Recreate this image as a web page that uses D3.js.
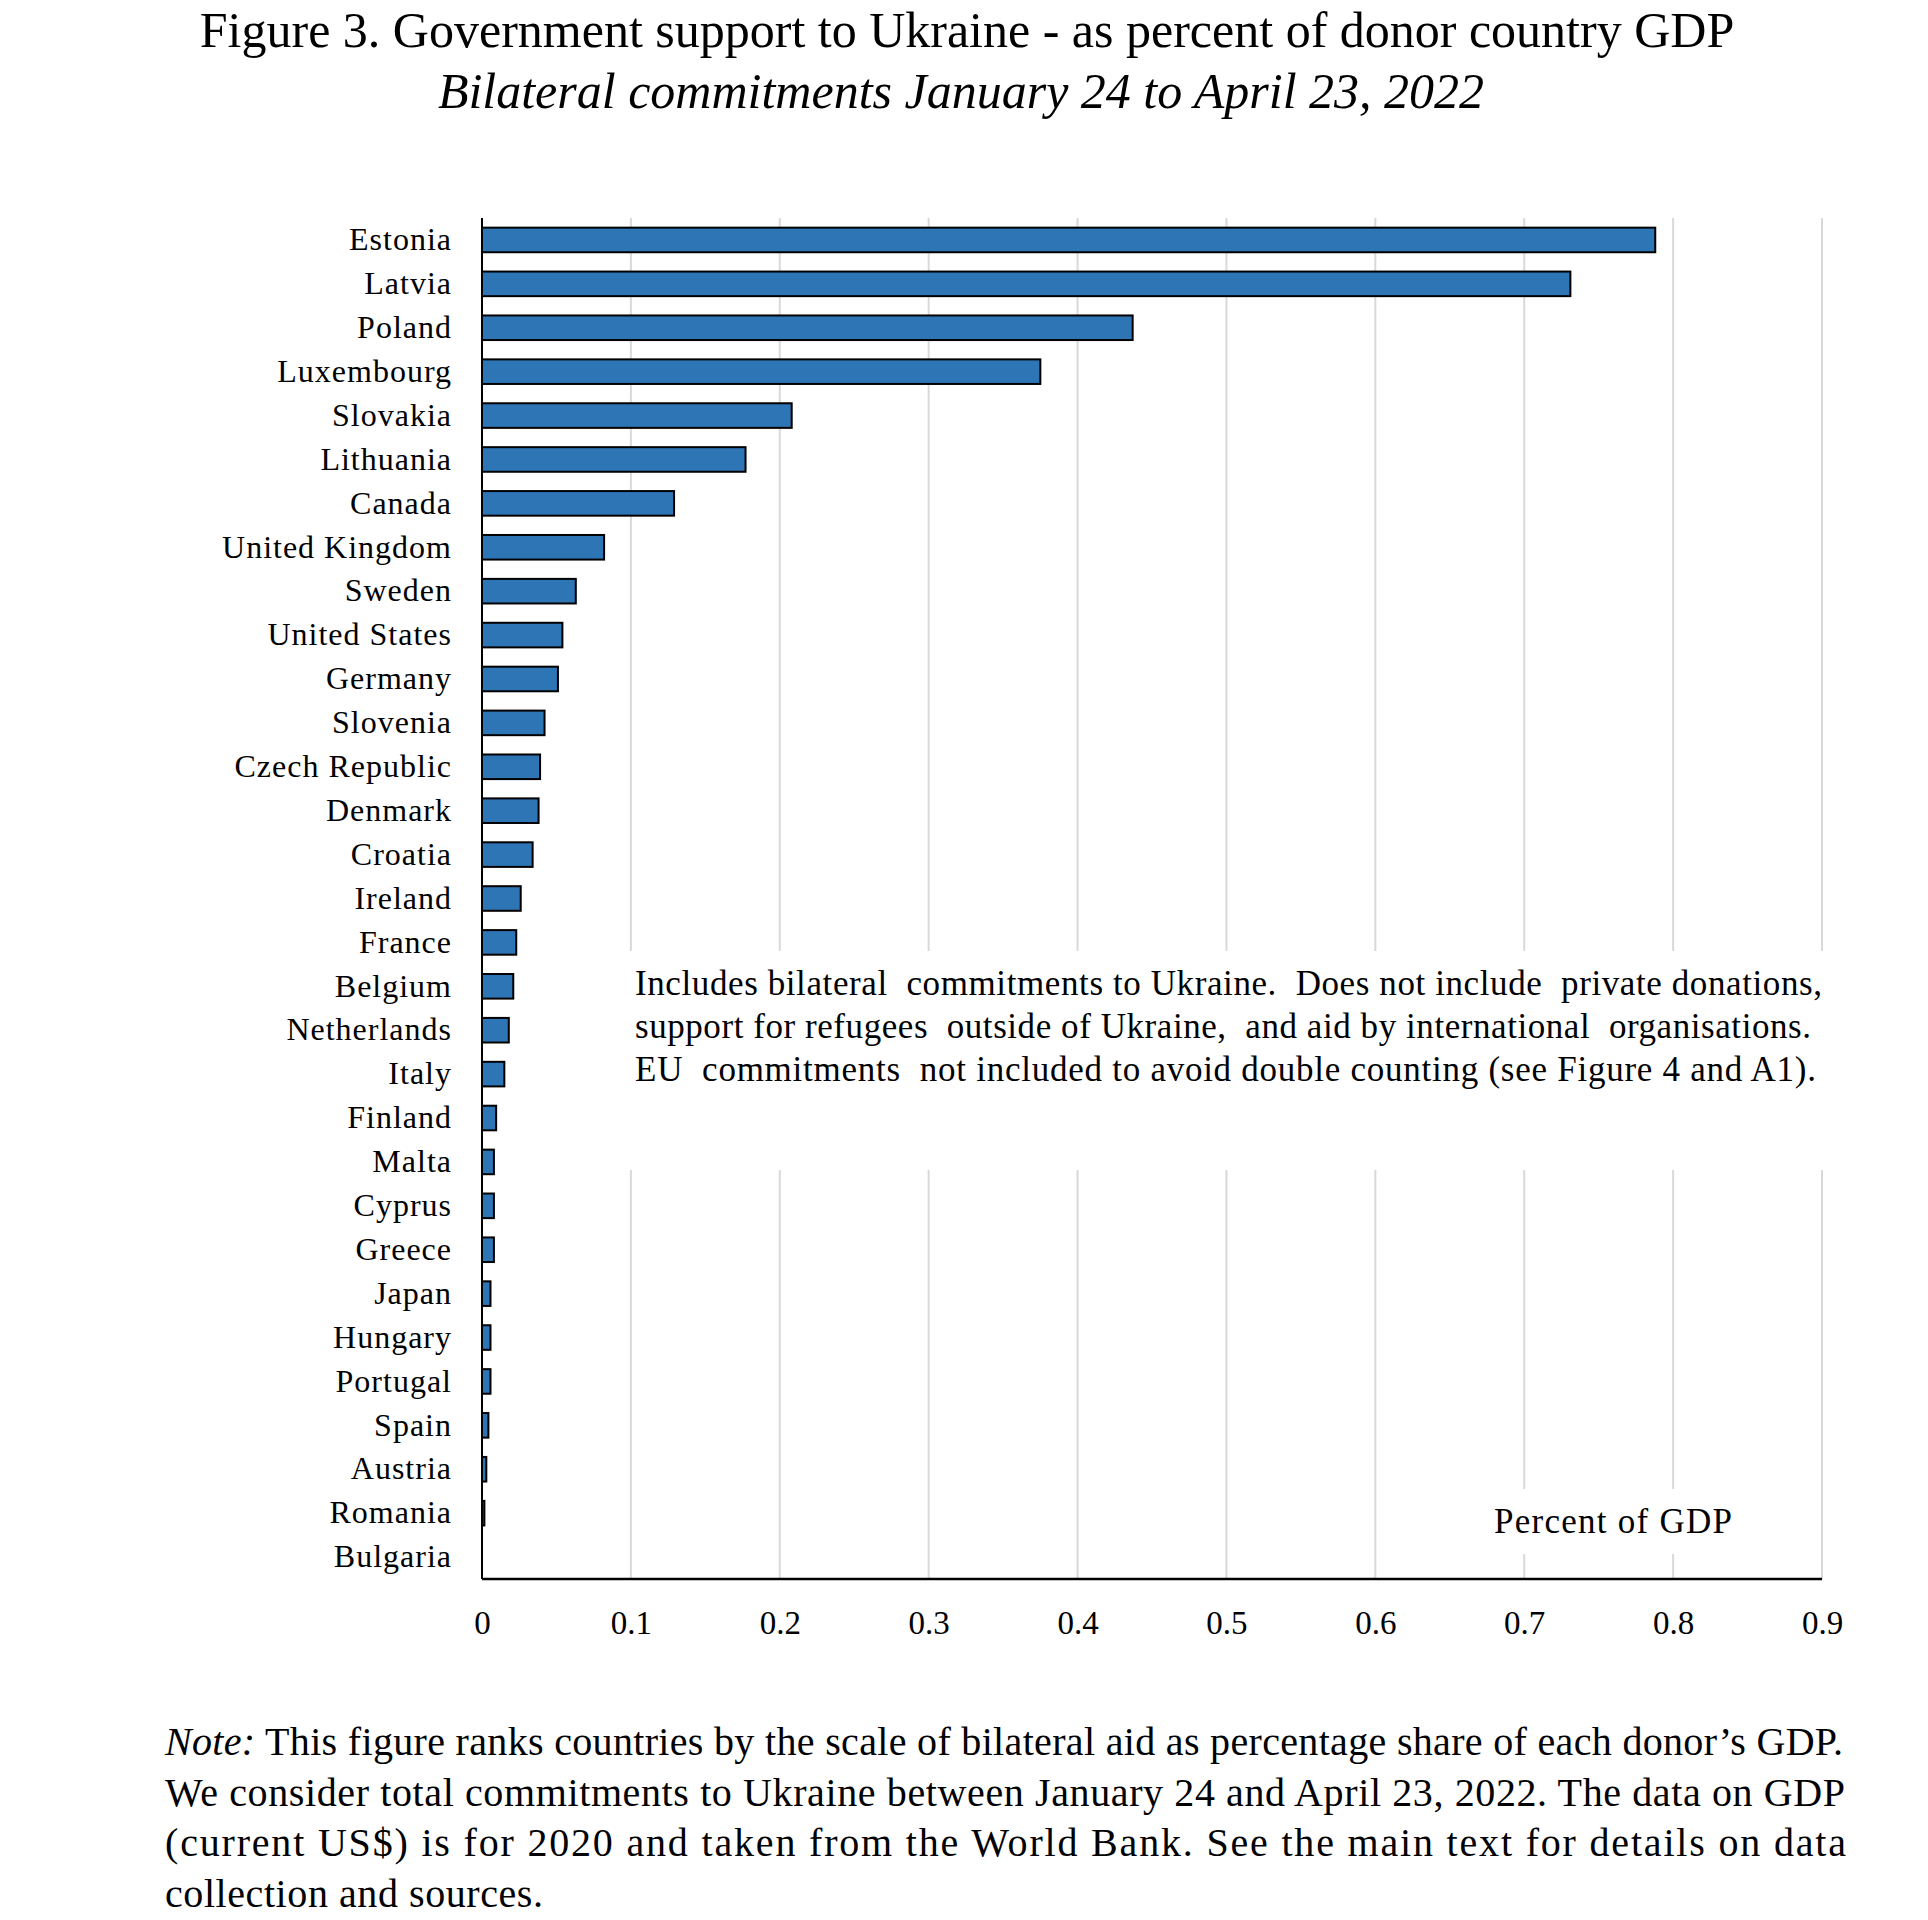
<!DOCTYPE html>
<html>
<head>
<meta charset="utf-8">
<script src="https://cdn.jsdelivr.net/npm/d3@7"></script>
<style>
  body { margin: 0; background: #fff; }
  text { font-family: "Liberation Serif", "Times New Roman", serif; fill: #000; }
</style>
</head>
<body>
<div id="chart"></div>
<script>
// countries, ranked
const countries = ["Estonia", "Latvia", "Poland", "Luxembourg", "Slovakia", "Lithuania", "Canada",
  "United Kingdom", "Sweden", "United States", "Germany", "Slovenia", "Czech Republic", "Denmark",
  "Croatia", "Ireland", "France", "Belgium", "Netherlands", "Italy", "Finland", "Malta", "Cyprus",
  "Greece", "Japan", "Hungary", "Portugal", "Spain", "Austria", "Romania", "Bulgaria"];

// percent of GDP
const values = [0.788, 0.731, 0.437, 0.375, 0.208, 0.177, 0.129,
  0.082, 0.063, 0.054, 0.051, 0.042, 0.039, 0.038,
  0.034, 0.026, 0.023, 0.021, 0.018, 0.015, 0.0095, 0.008, 0.008,
  0.008, 0.0057, 0.0057, 0.0057, 0.0043, 0.0029, 0.0016, 0];

const xTicks = [0, 0.1, 0.2, 0.3, 0.4, 0.5, 0.6, 0.7, 0.8, 0.9];
const xTickLabels = ["0", "0.1", "0.2", "0.3", "0.4", "0.5", "0.6", "0.7", "0.8", "0.9"];

const title = "Figure 3. Government support to Ukraine - as percent of donor country GDP";
const subtitle = "Bilateral commitments January 24 to April 23, 2022";
const boxLines = [
  "Includes bilateral  commitments to Ukraine.  Does not include  private donations,",
  "support for refugees  outside of Ukraine,  and aid by international  organisations.",
  "EU  commitments  not included to avoid double counting (see Figure 4 and A1)."
];
const axisTitle = "Percent of GDP";
const noteLines = [
  "This figure ranks countries by the scale of bilateral aid as percentage share of each donor\u2019s GDP.",
  "We consider total commitments to Ukraine between January 24 and April 23, 2022. The data on GDP",
  "(current US$) is for 2020 and taken from the World Bank. See the main text for details on data",
  "collection and sources."
];

const width = 1928, height = 1920;
const margin = {top: 218, left: 482, right: 106, bottom: 341};

const svg = d3.select("#chart").append("svg")
  .attr("width", width)
  .attr("height", height);

const x = d3.scaleLinear()
  .domain([0, 0.9])
  .range([margin.left, width - margin.right]);

const y = d3.scaleBand()
  .domain(countries)
  .range([margin.top, height - margin.bottom])
  .paddingInner(0.44)
  .paddingOuter(0.22);

// gridlines
svg.append("g")
  .selectAll("line")
  .data(xTicks.slice(1))
  .join("line")
  .attr("x1", d => x(d))
  .attr("x2", d => x(d))
  .attr("y1", margin.top)
  .attr("y2", height - margin.bottom)
  .attr("stroke", "#d9d9d9")
  .attr("stroke-width", 2);

// white boxes behind the text inside the plot
svg.append("rect")
  .attr("x", 622).attr("y", 951)
  .attr("width", 1212).attr("height", 219)
  .attr("fill", "#fff");
svg.append("rect")
  .attr("x", 1488).attr("y", 1489)
  .attr("width", 252).attr("height", 65)
  .attr("fill", "#fff");

// bars
svg.append("g")
  .selectAll("rect")
  .data(countries)
  .join("rect")
  .attr("x", x(0))
  .attr("y", d => y(d))
  .attr("width", (d, i) => x(values[i]) - x(0))
  .attr("height", y.bandwidth())
  .attr("fill", "#2e75b6")
  .attr("stroke", (d, i) => values[i] > 0 ? "#000" : "none")
  .attr("stroke-width", 2);

// y labels
const yAxis = svg.append("g")
  .attr("transform", `translate(${margin.left},0)`)
  .call(d3.axisLeft(y).tickSize(0).tickPadding(30));
yAxis.select(".domain").remove();
yAxis.selectAll("text")
  .style("font-family", "'Liberation Serif', serif")
  .style("font-size", "32px")
  .style("letter-spacing", "1px")
  .attr("fill", "#000");

// x labels
const xAxis = svg.append("g")
  .attr("transform", `translate(0,${height - margin.bottom})`)
  .call(d3.axisBottom(x).tickValues(xTicks).tickFormat((d, i) => xTickLabels[i]).tickSize(0).tickPadding(32));
xAxis.select(".domain").remove();
xAxis.selectAll("text")
  .style("font-family", "'Liberation Serif', serif")
  .style("font-size", "33px")
  .attr("fill", "#000");

// axis lines
svg.append("line")
  .attr("x1", x(0)).attr("x2", x(0))
  .attr("y1", margin.top).attr("y2", height - margin.bottom)
  .attr("stroke", "#000").attr("stroke-width", 2);
svg.append("line")
  .attr("x1", x(0)).attr("x2", x(0.9))
  .attr("y1", height - margin.bottom).attr("y2", height - margin.bottom)
  .attr("stroke", "#000").attr("stroke-width", 2.5);

// titles
svg.append("text")
  .attr("x", 967).attr("y", 47)
  .attr("text-anchor", "middle")
  .style("font-size", "50px")
  .text(title);
svg.append("text")
  .attr("x", 961).attr("y", 108)
  .attr("text-anchor", "middle")
  .style("font-size", "50px")
  .style("font-style", "italic")
  .text(subtitle);

// text box in plot
const boxWidths = [1187, 1176, 1181];
boxLines.forEach((line, i) => {
  svg.append("text")
    .attr("x", 635).attr("y", 995 + i * 43)
    .attr("textLength", boxWidths[i])
    .attr("lengthAdjust", "spacing")
    .style("font-size", "35px")
    .style("white-space", "pre")
    .text(line);
});

svg.append("text")
  .attr("x", 1494).attr("y", 1533)
  .attr("textLength", 238)
  .attr("lengthAdjust", "spacing")
  .style("font-size", "35px")
  .text(axisTitle);

// note below
const noteWidths = [1678, 1680, 1681, 378];
noteLines.forEach((line, i) => {
  const t = svg.append("text")
    .attr("x", 165).attr("y", 1755 + i * 50.7)
    .style("font-size", "40px");
  t.attr("textLength", noteWidths[i]).attr("lengthAdjust", "spacing");
  if (i === 0) {
    t.append("tspan").style("font-style", "italic").text("Note:");
    t.append("tspan").text(" " + line);
  } else {
    t.text(line);
  }
});
</script>
</body>
</html>
